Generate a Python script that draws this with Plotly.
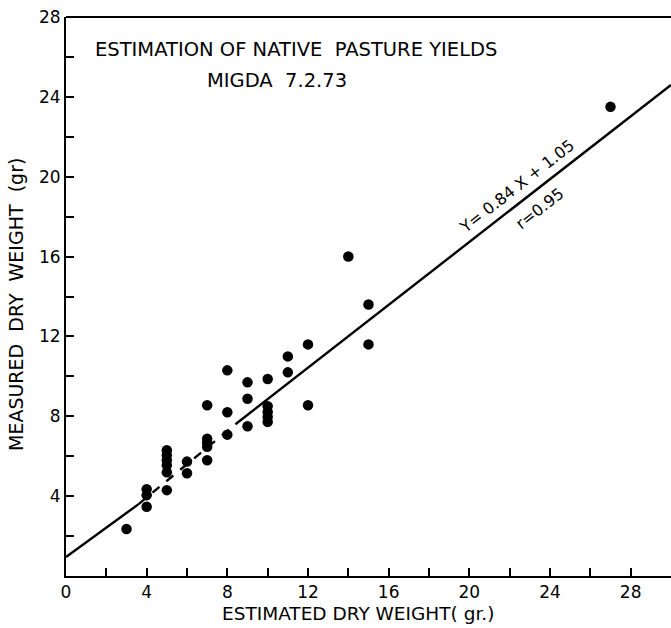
import plotly.graph_objects as go

# Data
est_x = [3, 4, 4, 4, 5, 5, 5, 5, 5, 5, 6, 6, 7, 7, 7, 7, 7, 8, 8, 8, 9, 9, 9,
         10, 10, 10, 10, 10, 11, 11, 12, 12, 14, 15, 15, 27]
meas_y = [2.35, 4.35, 4.05, 3.47, 6.3, 6.05, 5.8, 5.55, 5.2, 4.3, 5.73, 5.15,
          8.55, 6.88, 6.67, 6.47, 5.8, 10.3, 8.2, 7.08, 9.7, 8.88, 7.5,
          9.87, 8.5, 8.22, 7.97, 7.72, 11.0, 10.2, 11.6, 8.55, 16.0, 13.6, 11.6, 23.5]

# Regression line as drawn (solid / dashed / solid pieces)
line_solid1_x = [0, 3.6]
line_solid1_y = [0.95, 3.6]
line_dash_x = [3.6, 8.4]
line_dash_y = [3.6, 7.6]
line_solid2_x = [8.4, 30]
line_solid2_y = [7.6, 24.6]

x_ticks = [0, 4, 8, 12, 16, 20, 24, 28]
y_ticks = [4, 8, 12, 16, 20, 24, 28]

title_lines = ["ESTIMATION OF NATIVE  PASTURE YIELDS", "MIGDA  7.2.73"]
equation = "Y= 0.84 X + 1.05"
corr = "r=0.95"
x_title = "ESTIMATED DRY WEIGHT( gr.)"
y_title = "MEASURED  DRY  WEIGHT  (gr)"

FONT = "DejaVu Sans, Liberation Sans, sans-serif"

fig = go.Figure()
for lx, ly, dash in [(line_solid1_x, line_solid1_y, "solid"),
                     (line_dash_x, line_dash_y, "dash"),
                     (line_solid2_x, line_solid2_y, "solid")]:
    fig.add_trace(go.Scatter(x=lx, y=ly, mode="lines",
                             line=dict(color="black", width=2.4, dash=dash),
                             hoverinfo="skip", showlegend=False))

fig.add_trace(go.Scatter(x=est_x, y=meas_y, mode="markers",
                         marker=dict(color="black", size=10.5),
                         showlegend=False))

fig.update_layout(
    width=671, height=628,
    margin=dict(l=66, r=0, t=17, b=52),
    plot_bgcolor="white", paper_bgcolor="white",
    font=dict(family=FONT, color="black", size=17),
    showlegend=False,
)

fig.update_xaxes(range=[0, 30], tickvals=x_ticks, ticktext=[str(v) for v in x_ticks],
                 ticks="inside", ticklen=8, tickwidth=1.5, tickcolor="black",
                 minor=dict(dtick=2, tick0=0, ticks="inside", ticklen=8, tickwidth=1.5, tickcolor="black"),
                 showline=True, linecolor="black", linewidth=2, mirror=False,
                 showgrid=False, zeroline=False, tickfont=dict(size=17))
fig.update_yaxes(range=[0, 28], tickvals=y_ticks, ticktext=[str(v) for v in y_ticks],
                 ticks="inside", ticklen=8, tickwidth=1.5, tickcolor="black",
                 minor=dict(dtick=2, tick0=0, ticks="inside", ticklen=8, tickwidth=1.5, tickcolor="black"),
                 showline=True, linecolor="black", linewidth=2, mirror=False,
                 showgrid=False, zeroline=False, tickfont=dict(size=17))

# top frame line
fig.add_shape(type="line", xref="paper", yref="paper", x0=0, x1=1, y0=1, y1=1,
              line=dict(color="black", width=2))

fig.add_annotation(text=title_lines[0], xref="paper", yref="paper",
                   x=(93 - 66) / 605, y=0.941, xanchor="left", yanchor="middle",
                   showarrow=False, font=dict(size=19.5))
fig.add_annotation(text=title_lines[1], xref="paper", yref="paper",
                   x=(205 - 66) / 605, y=0.887, xanchor="left", yanchor="middle",
                   showarrow=False, font=dict(size=19.5))
fig.add_annotation(text=equation, x=22.35, y=19.5, textangle=-38,
                   showarrow=False, font=dict(size=16))
fig.add_annotation(text=corr, x=23.5, y=18.4, textangle=-38,
                   showarrow=False, font=dict(size=16))
fig.add_annotation(text=x_title, xref="paper", yref="paper",
                   x=(357.5 - 66) / 605, y=-(613 - 576) / 559,
                   xanchor="center", yanchor="middle", showarrow=False,
                   font=dict(size=18.5))
fig.add_annotation(text=y_title, xref="paper", yref="paper",
                   x=-(66 - 16) / 605, y=(576 - 305) / 559,
                   xanchor="center", yanchor="middle", textangle=-90,
                   showarrow=False, font=dict(size=19))

fig.write_html("out.html")
